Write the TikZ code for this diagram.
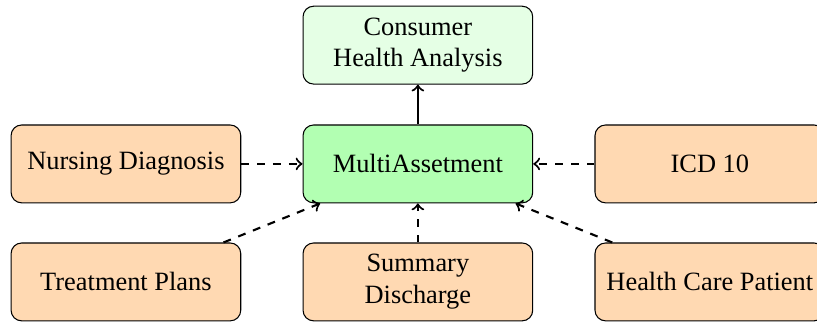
\documentclass[tikz,border=0pt]{standalone}
\usepackage{fontspec}
\setmainfont{Liberation Serif}

\begin{document}
\begin{tikzpicture}[x=1pt,y=1pt]
    \tikzset{
      source/.style={draw=black, rounded corners=4pt, fill=orange!30, minimum width=87pt, minimum height=29.5pt, align=center, inner sep=2pt},
      hub/.style={source, fill=green!30},
      result/.style={source, fill=green!10},
      feed/.style={->, dashed, thick},
      yield/.style={->, thick}
    }
    \useasboundingbox (0,0) rectangle (309.5,-122);
    \node [result] (consumer) at (158.3,-17.1) {Consumer\\Health Analysis};
    \node [hub] (multi) at (158.3,-62.1) {MultiAssetment};
    \node [source] (nursing) at (47.7,-62.1) {Nursing Diagnosis};
    \node [source] (icd) at (268.9,-62.1) {ICD 10};
    \node [source] (treatment) at (47.7,-106.8) {Treatment Plans};
    \node [source] (summary) at (158.3,-106.8) {Summary\\Discharge};
    \node [source] (patient) at (268.9,-106.8) {Health Care Patient};
    \draw [yield] (multi) -- (consumer);
    \draw [feed] (nursing) -- (multi);
    \draw [feed] (icd) -- (multi);
    \draw [feed] (treatment) -- (multi);
    \draw [feed] (summary) -- (multi);
    \draw [feed] (patient) -- (multi);
\end{tikzpicture}
\end{document}
